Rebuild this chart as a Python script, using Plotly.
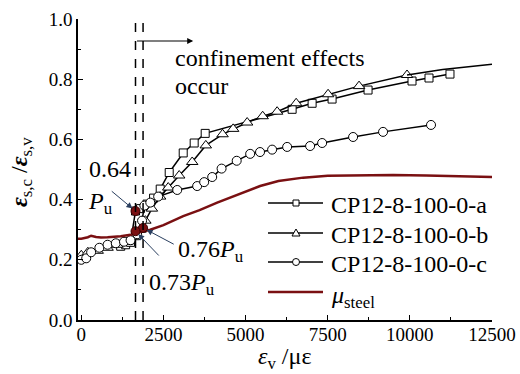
import plotly.graph_objects as go

# ---------------- data ----------------
a_x = [1200, 1350, 1500, 1650, 1800, 2000, 2200, 2402, 2676, 3102, 3436, 3771,
       6417, 7025, 7633, 8728, 10066, 10583, 11221]
a_y = [0.245, 0.25, 0.258, 0.362, 0.37, 0.385, 0.405, 0.435, 0.49, 0.555, 0.588, 0.62,
       0.70, 0.72, 0.734, 0.764, 0.794, 0.804, 0.817]

b_x = [0, 200, 500, 800, 1100, 1400, 1600, 1800, 1950, 2150, 2400, 2646, 2980, 3376,
       3790, 4300, 4622, 5048, 5520, 5960, 6540, 7511, 8454, 9914]
b_y = [0.215, 0.225, 0.23, 0.24, 0.25, 0.26, 0.275, 0.30, 0.33, 0.37, 0.41, 0.44, 0.48,
       0.525, 0.58, 0.617, 0.635, 0.656, 0.677, 0.692, 0.72, 0.75, 0.777, 0.814]
b_tail_x = [9914, 11000, 12500]
b_tail_y = [0.814, 0.832, 0.85]

c_x = [0, 150, 300, 550, 800, 1050, 1300, 1500, 1700, 1850, 1920, 2100, 2340, 2920,
       3527, 3740, 3984, 4270, 4730, 5140, 5440, 5808, 6265, 6964, 7330, 8272, 9184, 10644]
c_y = [0.20, 0.205, 0.225, 0.24, 0.25, 0.255, 0.26, 0.265, 0.285, 0.33, 0.38, 0.39,
       0.41, 0.432, 0.445, 0.458, 0.475, 0.503, 0.529, 0.552, 0.558, 0.566, 0.575,
       0.578, 0.588, 0.608, 0.625, 0.648]

mu_x = [-100, 0, 200, 300, 450, 600, 800, 1200, 1500, 1700, 2098, 2500, 3102, 3600,
        4136, 4700, 5140, 5443, 6000, 6751, 7500, 8500, 9488, 10500, 11500, 12500]
mu_y = [0.27, 0.27, 0.275, 0.28, 0.276, 0.274, 0.275, 0.278, 0.283, 0.29, 0.30, 0.315,
        0.345, 0.365, 0.39, 0.413, 0.432, 0.445, 0.462, 0.473, 0.479, 0.481, 0.482,
        0.48, 0.478, 0.475]

key_x = [1650, 1880, 1650]
key_y = [0.362, 0.306, 0.295]
key_labels = ["0.64", "0.76", "0.73"]

dash_x = [1650, 1880]

x_ticks = [0, 2500, 5000, 7500, 10000, 12500]
y_ticks = [0.0, 0.2, 0.4, 0.6, 0.8, 1.0]

series_names = ["CP12-8-100-0-a", "CP12-8-100-0-b", "CP12-8-100-0-c"]
mu_name = "<i>μ</i><sub>steel</sub>"
x_title = "<i>ε</i><sub>v</sub> /με"
y_title = "<b><i>ε</i></b><sub>s,c</sub> /<b><i>ε</i></b><sub>s,v</sub>"

FONT = '"Liberation Serif", "Times New Roman", Times, serif'
RED = "#7a1012"

# plot-area pixel geometry (used only for placing texts / legend glyphs)
L, R, T, B = 78, 492, 19, 320
W, H = 520, 374

def ppx(px):
    return (px - L) / (R - L)

def ppy(py):
    return (B - py) / (B - T)

def px2x(px):
    return (px - 81) * 2500 / 82.2

def py2y(py):
    return (B - py) / (B - T)

fig = go.Figure()

def mk(sym, size):
    return dict(symbol=sym, size=size, color="white", line=dict(color="black", width=1))

fig.add_trace(go.Scatter(x=a_x, y=a_y, mode="lines+markers", name=series_names[0],
                         line=dict(color="black", width=1.5), marker=mk("square", 8)))
fig.add_trace(go.Scatter(x=b_x, y=b_y, mode="lines+markers", name=series_names[1],
                         line=dict(color="black", width=1.5), marker=mk("triangle-up", 10)))
fig.add_trace(go.Scatter(x=b_tail_x, y=b_tail_y, mode="lines", showlegend=False,
                         line=dict(color="black", width=1.5)))
fig.add_trace(go.Scatter(x=c_x, y=c_y, mode="lines+markers", name=series_names[2],
                         line=dict(color="black", width=1.5), marker=mk("circle", 9)))
fig.add_trace(go.Scatter(x=mu_x, y=mu_y, mode="lines", name=mu_name,
                         line=dict(color=RED, width=2.5)))
fig.add_trace(go.Scatter(x=key_x, y=key_y, mode="markers", showlegend=False,
                         marker=dict(symbol="circle", size=9, color=RED,
                                     line=dict(color="#3a0000", width=1))))

for dx in dash_x:
    fig.add_shape(type="line", x0=dx, x1=dx, y0=0, y1=1, xref="x", yref="y",
                  line=dict(color="black", width=1.5, dash="dash"))

tf = dict(family=FONT, size=24, color="black")

# confinement arrow
fig.add_annotation(x=px2x(193), y=py2y(41), ax=dash_x[0], ay=py2y(41), xref="x", yref="y",
                   axref="x", ayref="y", text="", showarrow=True, arrowhead=2,
                   arrowsize=1, arrowwidth=1.2, arrowcolor="black")
fig.add_annotation(x=px2x(173), y=py2y(58), text="confinement effects", showarrow=False,
                   xanchor="left", yanchor="middle", font=tf)
fig.add_annotation(x=px2x(173), y=py2y(86), text="occur", showarrow=False,
                   xanchor="left", yanchor="middle", font=tf)

# key point annotations
fig.add_annotation(x=key_x[0], y=key_y[0], ax=px2x(110), ay=py2y(190), xref="x", yref="y",
                   axref="x", ayref="y", text="", showarrow=True, arrowhead=2,
                   arrowwidth=1, arrowsize=1.2, standoff=4)
fig.add_annotation(x=px2x(110), y=py2y(169), text=key_labels[0], showarrow=False,
                   xanchor="center", yanchor="middle", font=tf)
fig.add_annotation(x=px2x(86), y=py2y(203), text="<i>P</i><sub>u</sub>", showarrow=False,
                   xanchor="left", yanchor="middle", font=tf)

fig.add_annotation(x=key_x[1], y=key_y[1], ax=px2x(175), ay=py2y(245), xref="x", yref="y",
                   axref="x", ayref="y", text="", showarrow=True, arrowhead=2,
                   arrowwidth=1, arrowsize=1.2, standoff=4)
fig.add_annotation(x=px2x(176), y=py2y(251), text=key_labels[1] + "<i>P</i><sub>u</sub>",
                   showarrow=False, xanchor="left", yanchor="middle", font=tf)

fig.add_annotation(x=key_x[2], y=key_y[2], ax=px2x(160), ay=py2y(257), xref="x", yref="y",
                   axref="x", ayref="y", text="", showarrow=True, arrowhead=2,
                   arrowwidth=1, arrowsize=1.2, standoff=4)
fig.add_annotation(x=px2x(147), y=py2y(284), text=key_labels[2] + "<i>P</i><sub>u</sub>",
                   showarrow=False, xanchor="left", yanchor="middle", font=tf)

# axis titles as annotations (exact placement)
fig.add_annotation(xref="paper", yref="paper", x=ppx(284), y=ppy(358), text=x_title,
                   showarrow=False, xanchor="center", yanchor="middle", font=tf)
fig.add_annotation(xref="paper", yref="paper", x=ppx(21), y=ppy(172), text=y_title,
                   showarrow=False, xanchor="center", yanchor="middle", textangle=-90,
                   font=tf)

# ---------------- manual legend ----------------
leg_rows = [203, 233, 262, 292]
leg_line_x0, leg_line_x1, leg_mark_x, leg_text_x = 268, 323, 296, 329
for i, ry in enumerate(leg_rows):
    col = RED if i == 3 else "black"
    wid = 2.5 if i == 3 else 1.5
    fig.add_shape(type="line", xref="paper", yref="paper",
                  x0=ppx(leg_line_x0), x1=ppx(leg_line_x1), y0=ppy(ry), y1=ppy(ry),
                  line=dict(color=col, width=wid))
    name = series_names[i] if i < 3 else mu_name
    fig.add_annotation(xref="paper", yref="paper", x=ppx(leg_text_x),
                       y=ppy(ry + (5 if i == 3 else 2)), text=name,
                       showarrow=False, xanchor="left", yanchor="middle", font=tf)
# legend glyphs
s = 3
fig.add_shape(type="rect", xref="paper", yref="paper",
              x0=ppx(leg_mark_x - s), x1=ppx(leg_mark_x + s),
              y0=ppy(leg_rows[0] - s), y1=ppy(leg_rows[0] + s),
              fillcolor="white", line=dict(color="black", width=1))
tx, ty = leg_mark_x, leg_rows[1]
fig.add_shape(type="path", xref="paper", yref="paper",
              path=(f"M {ppx(tx - 4)} {ppy(ty + 3)} L {ppx(tx + 4)} {ppy(ty + 3)} "
                    f"L {ppx(tx)} {ppy(ty - 4)} Z"),
              fillcolor="white", line=dict(color="black", width=1))
fig.add_shape(type="circle", xref="paper", yref="paper",
              x0=ppx(leg_mark_x - 3.5), x1=ppx(leg_mark_x + 3.5),
              y0=ppy(leg_rows[2] - 3.5), y1=ppy(leg_rows[2] + 3.5),
              fillcolor="white", line=dict(color="black", width=1))

axis_common = dict(showgrid=False, zeroline=False, showline=True, linecolor="black",
                   linewidth=1.5, ticks="inside", ticklen=5, tickwidth=1.2,
                   tickcolor="black", automargin=False,
                   tickfont=dict(family=FONT, size=19, color="black"))

fig.update_xaxes(range=[-100, 12500], tickvals=x_ticks,
                 ticktext=[str(v) for v in x_ticks], ticklabelstandoff=-4,
                 minor=dict(ticks="inside", ticklen=3, tickwidth=1.2, tickcolor="black",
                            dtick=1250, tick0=0),
                 **axis_common)
fig.update_yaxes(range=[0, 1.0], tickvals=y_ticks,
                 ticktext=[f"{v:.1f}" for v in y_ticks],
                 minor=dict(ticks="inside", ticklen=3, tickwidth=1.2, tickcolor="black",
                            dtick=0.1, tick0=0),
                 **axis_common)

fig.update_layout(
    width=W, height=H,
    margin=dict(l=L, r=W - R, t=T, b=H - B),
    paper_bgcolor="white", plot_bgcolor="white",
    font=dict(family=FONT, color="black"),
    showlegend=False,
)

fig.write_html("out.html")
